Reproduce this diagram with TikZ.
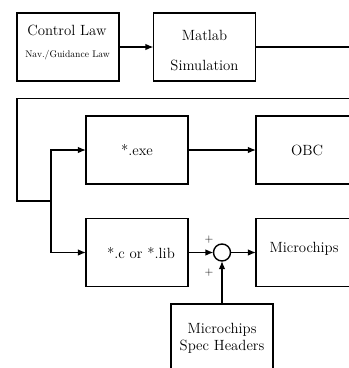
\documentclass[tikz,border=0pt]{standalone}
\usetikzlibrary{arrows.meta}
\begin{document}
\begin{tikzpicture}[x=1pt,y=-1pt,
  blk/.style={draw,line width=1.4pt,minimum width=102pt,minimum height=68pt,inner sep=0pt,outer sep=0pt},
  txt/.style={inner sep=0pt,font=\fontsize{14.8}{17}\selectfont},
  small/.style={inner sep=0pt,font=\fontsize{9.6}{11}\selectfont},
  sgn/.style={inner sep=0pt,font=\fontsize{11.5}{13}\selectfont},
  sumc/.style={draw,circle,line width=1.4pt,minimum size=17pt,inner sep=0pt,outer sep=0pt},
  wire/.style={line width=1.4pt},
  flow/.style={wire,-{Latex[length=8pt,width=6.5pt]}}]
\useasboundingbox (0,0) rectangle (349,368);
\clip (0,0) rectangle (349,368);

% blocks
\node[blk] (cl)   at (68,47)    {};
\node[blk] (ml)   at (204.5,47) {};
\node[blk] (exe)  at (137,150)  {};
\node[blk] (obc)  at (307,150)  {};
\node[blk] (clib) at (137,252.5){};
\node[blk] (mc)   at (307,252.5){};
\node[blk] (spec) at (222,338)  {};
\node[sumc] (sum) at (222,252.5){};

% block texts
\node[txt]   (clt)  at (67,30)   {Control Law};
\node[small] (clt2) at (67.5,55) {Nav./Guidance Law};
\node[txt]   (mlt)  at (204.5,35){Matlab};
\node[txt]   (mlt2) at (204.5,65){Simulation};
\node[txt]   (exet) at (137,150) {*.exe};
\node[txt]   (obct) at (307,150) {OBC};
\node[txt]   (clibt) at (141,253){*.c or *.lib};
\node[txt]   (mct)  at (304,249) {Microchips};
\node[txt]   (spt)  at (222,330) {Microchips};
\node[txt]   (spt2) at (222,347) {Spec Headers};
\node[sgn]   (p1)   at (209,240) {+};
\node[sgn]   (p2)   at (209,273) {+};

% free ends and bends
\coordinate (mlout) at (360,47);
\coordinate (lpR) at (360,98.5);
\coordinate (lpA) at (17,98.5);
\coordinate (lpB) at (17,201);
\coordinate (jn)  at (51,201);

% connectors
\draw[flow] (cl.east) -- (ml.west);
\draw[wire] (ml.east) -- (mlout);
\draw[wire] (lpR) -- (lpA) -- (lpB) -- (jn);
\draw[flow] (jn) |- (exe.west);
\draw[flow] (jn) |- (clib.west);
\draw[flow] (exe.east) -- (obc.west);
\draw[flow] (clib.east) -- (sum.west);
\draw[flow] (sum.east) -- (mc.west);
\draw[flow] (spec.north) -- (sum.south);
\end{tikzpicture}
\end{document}
